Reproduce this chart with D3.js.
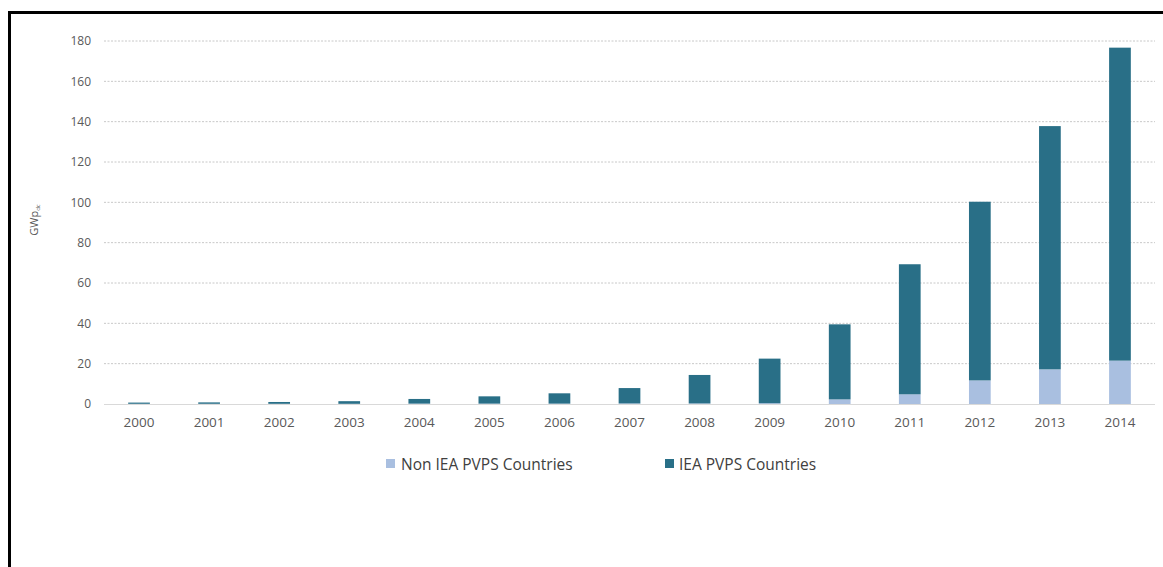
<!DOCTYPE html>
<html>
<head>
<meta charset="utf-8">
<script src="https://cdn.jsdelivr.net/npm/d3@7"></script>
<style>
  html, body { margin: 0; padding: 0; background: #fff; }
  svg { display: block; font-family: "Open Sans", "Noto Sans", sans-serif; }
</style>
</head>
<body>
<svg id="chart" width="1163" height="567"></svg>
<script>
const years = ["2000","2001","2002","2003","2004","2005","2006","2007","2008","2009","2010","2011","2012","2013","2014"];
const nonIEA = [0.1, 0.1, 0.1, 0.1, 0.2, 0.2, 0.2, 0.3, 0.3, 0.4, 2.3, 4.8, 11.7, 17.2, 21.5];
const iea    = [0.6, 0.7, 0.9, 1.3, 2.3, 3.6, 5.1, 7.6, 14.1, 22.1, 37.2, 64.5, 88.6, 120.6, 155.2];
const yTicks = [0, 20, 40, 60, 80, 100, 120, 140, 160, 180];
const seriesNames = ["Non IEA PVPS Countries", "IEA PVPS Countries"];
const colors = ["#a9bfe0", "#296f87"];
const FONT = "'Open Sans', 'Noto Sans', sans-serif";

const svg = d3.select("#chart");

// frame
svg.append("path")
  .attr("d", "M9.5,1163 L9.5,12.5 L1163,12.5")
  .attr("fill", "none").attr("stroke", "#000").attr("stroke-width", 3);

const mLeft = 104, mRight = 1155, mTop = 41, mBottom = 404;

const x = d3.scaleBand().domain(years).range([mLeft, mRight]).paddingInner(0.69).paddingOuter(0.345);
const y = d3.scaleLinear().domain([0, 180]).range([mBottom, mTop]);

// gridlines
svg.append("g").selectAll("line").data(yTicks.filter(d => d > 0)).join("line")
  .attr("x1", mLeft).attr("x2", mRight)
  .attr("y1", d => y(d)).attr("y2", d => y(d))
  .attr("stroke", "#c8c8c8").attr("stroke-width", 1).attr("stroke-dasharray", "2,1.5");

// y axis
const yAxis = svg.append("g").attr("transform", `translate(${mLeft},0)`)
  .call(d3.axisLeft(y).tickValues(yTicks).tickSize(0).tickPadding(13));
yAxis.attr("font-family", FONT);
yAxis.select(".domain").remove();
yAxis.selectAll("text").attr("font-size", 12).attr("fill", "#595959");

// stacked data
const table = years.map((yr, i) => ({ year: yr, nonIEA: nonIEA[i], iea: iea[i] }));
const stack = d3.stack().keys(["nonIEA", "iea"])(table);

svg.append("g").selectAll("g").data(stack).join("g")
  .attr("fill", (d, i) => colors[i])
  .selectAll("rect").data(d => d).join("rect")
  .attr("x", d => x(d.data.year))
  .attr("width", x.bandwidth())
  .attr("y", d => y(d[1]))
  .attr("height", d => y(d[0]) - y(d[1]));

// baseline
svg.append("line").attr("x1", mLeft).attr("x2", mRight).attr("y1", y(0) + 0.5).attr("y2", y(0) + 0.5)
  .attr("stroke", "#d9d9d9").attr("stroke-width", 1);

// x axis labels
const xAxis = svg.append("g").attr("transform", `translate(0,${mBottom})`)
  .call(d3.axisBottom(x).tickSize(0).tickPadding(13));
xAxis.attr("font-family", FONT);
xAxis.select(".domain").remove();
xAxis.selectAll("text").attr("font-size", 13.5).attr("fill", "#595959");

// y title
const yt = svg.append("text")
  .attr("transform", "translate(38,220) rotate(-90)")
  .attr("text-anchor", "middle")
  .attr("font-size", 11).attr("fill", "#595959");
yt.append("tspan").text("GWp");
yt.append("tspan").attr("font-size", 6).attr("dy", 2).text("dc");

// legend
const legendItems = [{ x: 386, tx: 401 }, { x: 665, tx: 679 }];
const lg = svg.append("g").selectAll("g").data(seriesNames).join("g");
lg.append("rect")
  .attr("x", (d, i) => legendItems[i].x).attr("y", 459)
  .attr("width", 9).attr("height", 9)
  .attr("fill", (d, i) => colors[i]);
lg.append("text")
  .attr("x", (d, i) => legendItems[i].tx).attr("y", 469.5)
  .attr("font-size", 15.5).attr("fill", "#404040")
  .text(d => d);
</script>
</body>
</html>
